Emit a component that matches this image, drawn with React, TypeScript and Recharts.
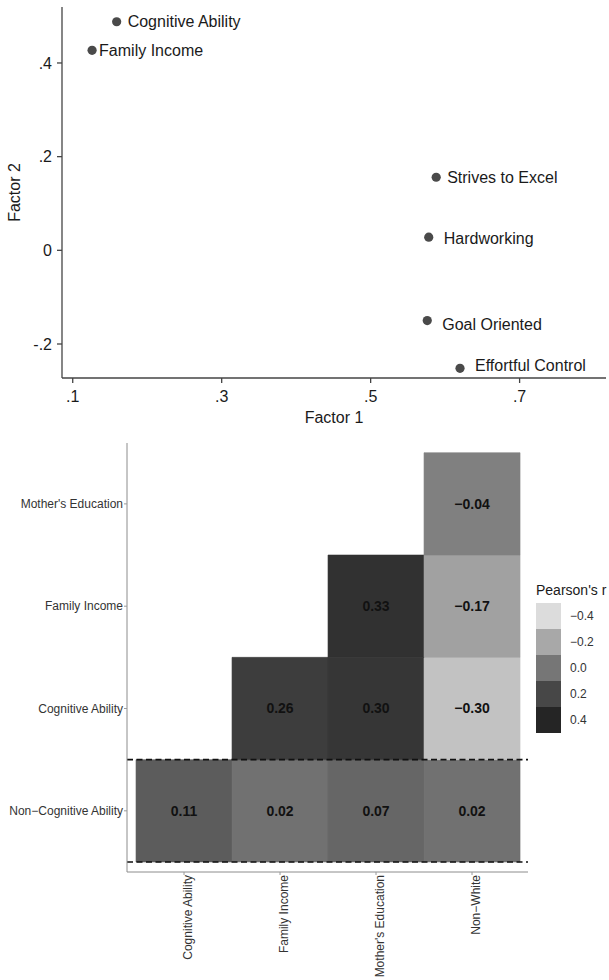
import React from 'react';
import { ScatterChart, Scatter, XAxis, YAxis, ReferenceArea, ReferenceLine } from 'recharts';

// ---------- Data: factor loadings ----------
const variables = ['Cognitive Ability', 'Family Income', 'Strives to Excel', 'Hardworking', 'Goal Oriented', 'Effortful Control'];
const factor1 = [0.159, 0.126, 0.588, 0.578, 0.576, 0.620];
const factor2 = [0.488, 0.427, 0.156, 0.028, -0.150, -0.252];
const factor1Ticks = [0.1, 0.3, 0.5, 0.7];
const factor2Ticks = [-0.2, 0, 0.2, 0.4];

// ---------- Data: correlation heatmap ----------
const heatCols = ['Cognitive Ability', 'Family Income', "Mother's Education", 'Non\u2212White'];
const heatRows = ['Non\u2212Cognitive Ability', 'Cognitive Ability', 'Family Income', "Mother's Education"];
const rNonCognitive = [0.11, 0.02, 0.07, 0.02];
const rCognitive = [null, 0.26, 0.30, -0.30];
const rFamilyIncome = [null, null, 0.33, -0.17];
const rMothersEducation = [null, null, null, -0.04];
const legendTicks = [-0.4, -0.2, 0.0, 0.2, 0.4];

const rowValues = [rNonCognitive, rCognitive, rFamilyIncome, rMothersEducation];

// ---------- Styles ----------
const FONT = '"Liberation Sans", Arial, Helvetica, sans-serif';
const greyStops: [number, number][] = [[-0.4, 220], [-0.2, 168], [0, 118], [0.2, 71], [0.4, 37]];
function greyFor(v: number): string {
  let g: number;
  if (v <= greyStops[0][0]) g = greyStops[0][1];
  else if (v >= greyStops[greyStops.length - 1][0]) g = greyStops[greyStops.length - 1][1];
  else {
    g = greyStops[0][1];
    for (let i = 0; i < greyStops.length - 1; i++) {
      const [a, ga] = greyStops[i];
      const [b, gb] = greyStops[i + 1];
      if (v >= a && v <= b) { g = ga + ((v - a) / (b - a)) * (gb - ga); break; }
    }
  }
  const h = Math.round(g).toString(16).padStart(2, '0');
  return `#${h}${h}${h}`;
}
const fmtR = (v: number) => (v < 0 ? '\u2212' : '') + Math.abs(v).toFixed(2);
const fmtLegend = (v: number) => (v < 0 ? '\u2212' : '') + Math.abs(v).toFixed(1);
const fmtStata = (v: number) => {
  if (Math.abs(v) < 1e-9) return '0';
  return (v < 0 ? '-' : '') + Math.abs(v).toFixed(1).replace(/^0/, '');
};

const labelOffsets: Record<string, { dx: number; dy: number }> = {
  'Cognitive Ability': { dx: 11, dy: 0 },
  'Family Income': { dx: 7, dy: 0 },
  'Strives to Excel': { dx: 11, dy: 0 },
  'Hardworking': { dx: 15, dy: 1 },
  'Goal Oriented': { dx: 15, dy: 4 },
  'Effortful Control': { dx: 15, dy: -3 },
};

const loadings = variables.map((name, i) => ({ name, x: factor1[i], y: factor2[i] }));

const cells: { col: number; row: number; v: number }[] = [];
rowValues.forEach((vals, ri) => {
  vals.forEach((v, ci) => {
    if (v !== null && v !== undefined) cells.push({ col: ci + 1, row: ri + 1, v: v as number });
  });
});

const PointWithLabel = (props: any) => {
  const { cx, cy, payload } = props;
  const off = labelOffsets[payload.name] || { dx: 11, dy: 0 };
  return (
    <g>
      <circle cx={cx} cy={cy} r={4.6} fill="#4a4a4a" />
      <text x={cx + off.dx} y={cy + off.dy} dominantBaseline="central" fontSize={16} fill="#1a1a1a" fontFamily={FONT}>
        {payload.name}
      </text>
    </g>
  );
};

const HeatXTick = (props: any) => {
  const { x, y, payload } = props;
  const label = heatCols[Math.round(payload.value) - 1];
  const xx = x + 4;
  return (
    <text x={xx} y={y} transform={`rotate(-90, ${xx}, ${y})`} textAnchor="end" dominantBaseline="central" fontSize={12} fill="#333" fontFamily={FONT}>
      {label}
    </text>
  );
};

const HeatYTick = (props: any) => {
  const { x, y, payload } = props;
  const label = heatRows[Math.round(payload.value) - 1];
  return (
    <text x={x} y={y} textAnchor="end" dominantBaseline="central" fontSize={12} fill="#333" fontFamily={FONT}>
      {label}
    </text>
  );
};

export default function App() {
  return (
    <div style={{ position: 'absolute', left: 0, top: 0, width: 609, height: 980, background: '#fff', fontFamily: FONT, overflow: 'hidden' }}>
      {/* Top: factor loadings scatter */}
      <div style={{ position: 'absolute', left: 0, top: 0 }}>
        <ScatterChart width={609} height={440} margin={{ top: 7, right: 3, bottom: 0, left: 0 }}>
          <XAxis
            type="number"
            dataKey="x"
            domain={[0.0856, 0.816]}
            allowDataOverflow
            ticks={factor1Ticks}
            tickFormatter={fmtStata}
            height={62}
            tickSize={5}
            tickMargin={8}
            stroke="#444"
            strokeWidth={1.3}
            tick={{ fontSize: 16, fill: '#1a1a1a', fontFamily: FONT }}
            label={{ value: 'Factor 1', position: 'insideBottom', offset: 17, fontSize: 16, fill: '#1a1a1a', fontFamily: FONT }}
          />
          <YAxis
            type="number"
            dataKey="y"
            domain={[-0.2726, 0.5195]}
            allowDataOverflow
            ticks={factor2Ticks}
            tickFormatter={fmtStata}
            width={62}
            tickSize={5}
            tickMargin={5}
            stroke="#444"
            strokeWidth={1.3}
            tick={{ fontSize: 16, fill: '#1a1a1a', fontFamily: FONT }}
            label={{ value: 'Factor 2', angle: -90, position: 'insideLeft', offset: 14, fontSize: 16, fill: '#1a1a1a', fontFamily: FONT, style: { textAnchor: 'middle' } }}
          />
          <Scatter data={loadings} isAnimationActive={false} shape={PointWithLabel} />
        </ScatterChart>
      </div>

      {/* Bottom: correlation heatmap */}
      <div style={{ position: 'absolute', left: 0, top: 430 }}>
        <ScatterChart width={609} height={550} margin={{ top: 13, right: 81, bottom: 0, left: 0 }}>
          <XAxis
            type="number"
            dataKey="col"
            domain={[0.406, 4.583]}
            allowDataOverflow
            ticks={[1, 2, 3, 4]}
            height={108}
            tickSize={3}
            tickMargin={0}
            stroke="#8c8c8c"
            tickLine={{ stroke: '#9a9a9a' }}
            tick={HeatXTick}
          />
          <YAxis
            type="number"
            dataKey="row"
            domain={[0.402, 4.595]}
            allowDataOverflow
            ticks={[1, 2, 3, 4]}
            width={127}
            tickSize={3}
            tickMargin={1}
            stroke="#8c8c8c"
            tickLine={{ stroke: '#9a9a9a' }}
            tick={HeatYTick}
          />
          {cells.map((c) => (
            <ReferenceArea
              key={`${c.col}-${c.row}`}
              x1={c.col - 0.5}
              x2={c.col + 0.5}
              y1={c.row - 0.5}
              y2={c.row + 0.5}
              fill={greyFor(c.v)}
              fillOpacity={1}
              stroke={greyFor(c.v)}
              strokeOpacity={0.6}
              label={{ value: fmtR(c.v), position: 'center', fontSize: 14, fontWeight: 'bold', fill: '#111', fontFamily: FONT }}
            />
          ))}
          <ReferenceLine y={0.5} stroke="#111" strokeWidth={1.6} strokeDasharray="6 3.5" />
          <ReferenceLine y={1.5} stroke="#111" strokeWidth={1.6} strokeDasharray="6 3.5" />
          <Scatter data={cells} isAnimationActive={false} shape={() => <g />} />
        </ScatterChart>
      </div>

      {/* Legend */}
      <div style={{ position: 'absolute', left: 536, top: 582, width: 80, whiteSpace: 'nowrap' }}>
        <div style={{ fontSize: 14, color: '#1a1a1a', lineHeight: '16px', marginBottom: 5 }}>Pearson's r</div>
        {legendTicks.map((t) => (
          <div key={t} style={{ display: 'flex', alignItems: 'center', height: 26 }}>
            <div style={{ width: 25, height: 26, background: greyFor(t) }} />
            <div style={{ marginLeft: 9, fontSize: 12, color: '#333' }}>{fmtLegend(t)}</div>
          </div>
        ))}
      </div>
    </div>
  );
}
